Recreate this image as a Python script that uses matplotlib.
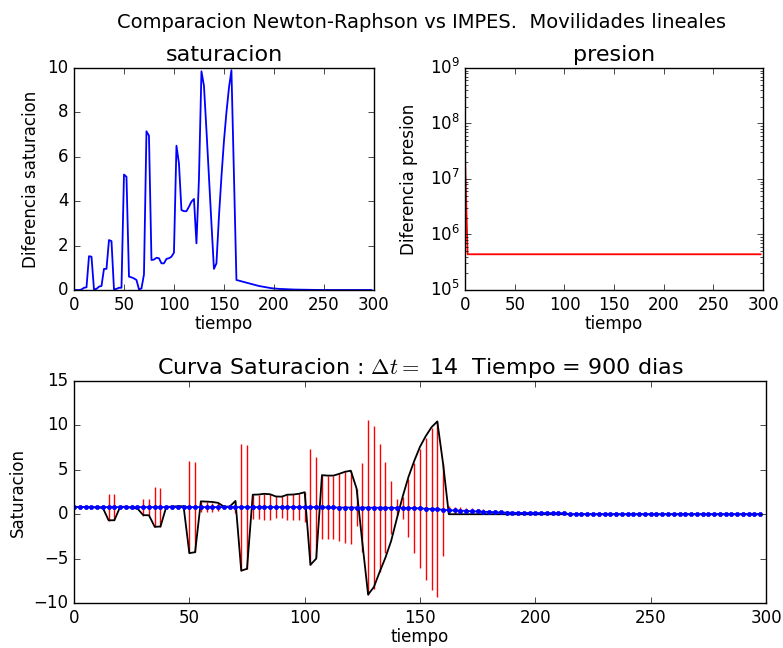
import numpy as np
import matplotlib
matplotlib.use('Agg')
import matplotlib.pyplot as plt

plt.style.use('classic')
plt.rcParams['font.family'] = ['DejaVu Sans']
plt.rcParams['figure.facecolor'] = 'white'

# malla de tiempo (120 celdas)
tiempo = np.arange(120) * 2.5

# saturacion Newton-Raphson (linea negra)
sw_nr = [0.82, 0.82, 0.82, 0.80, 0.75, 0.72, -0.68, -0.68, 0.82, 0.85,
         0.70, 0.65, -0.10, -0.12, -1.42, -1.38, 0.82, 0.86, 0.90, 0.90,
         -4.38, -4.28, 1.45, 1.42, 1.38, 1.28, 0.85, 0.86, 1.50, -6.35,
         -6.15, 2.20, 2.22, 2.30, 2.25, 2.00, 1.98, 2.20, 2.22, 2.30,
         2.48, -5.70, -5.00, 4.40, 4.35, 4.35, 4.55, 4.78, 4.90, 2.90,
         -3.20, -9.05, -8.20, -6.50, -4.90, -3.00, -0.45, 2.00, 4.20, 6.00,
         7.60, 8.80, 9.80, 10.45, 5.70, 0.00] + [0.0] * 54

# saturacion IMPES (linea azul con puntos)
sw_impes = ([0.80] * 44 +
            [0.76, 0.76, 0.75, 0.75, 0.75, 0.74, 0.74, 0.74, 0.73, 0.73, 0.73, 0.72,
             0.72, 0.71, 0.70, 0.68, 0.66, 0.62, 0.58, 0.55, 0.50, 0.45,
             0.42, 0.40, 0.37, 0.34, 0.31, 0.28, 0.25, 0.23, 0.20, 0.18,
             0.16, 0.15, 0.14, 0.14, 0.13, 0.13, 0.13, 0.12, 0.12, 0.12] +
            [0.0] * 34)

# diferencia de saturacion
dif_sat = [0.00, 0.00, 0.00, 0.02, 0.10, 0.12, 1.52, 1.50, 0.03, 0.05,
           0.15, 0.18, 0.95, 0.95, 2.25, 2.20, 0.03, 0.05, 0.10, 0.10,
           5.20, 5.10, 0.60, 0.57, 0.52, 0.45, 0.03, 0.07, 0.70, 7.15,
           6.95, 1.35, 1.37, 1.45, 1.43, 1.20, 1.20, 1.40, 1.43, 1.50,
           1.68, 6.50, 5.70, 3.60, 3.55, 3.55, 3.75, 3.98, 4.10, 2.10,
           5.00, 9.85, 9.20, 7.20, 5.10, 3.00, 0.95, 1.20, 3.30, 5.10,
           6.70, 8.00, 9.10, 9.90, 5.20, 0.45, 0.42, 0.39, 0.36, 0.33,
           0.30, 0.27, 0.24, 0.21, 0.18, 0.16, 0.14, 0.12, 0.10, 0.08,
           0.07, 0.06, 0.05, 0.045, 0.04, 0.035, 0.03, 0.025, 0.02, 0.018,
           0.016, 0.014, 0.012, 0.01, 0.008, 0.006, 0.004, 0.002, 0.001, 0.0] + [0.0] * 20

# diferencia de presion
dif_pres = [2.2e7] + [4.4e5] * 119

fig = plt.figure(figsize=(7.83, 6.48), dpi=100)
fig.suptitle('Comparacion Newton-Raphson vs IMPES.  Movilidades lineales',
             fontsize=14, x=0.538)

ax1 = fig.add_axes([0.0945, 0.5525, 0.383, 0.3426])
ax1.plot(tiempo, dif_sat, 'b-', lw=1.3)
ax1.set_xlim(0, 300)
ax1.set_ylim(0, 10)
ax1.set_title('saturacion', fontsize=16)
ax1.set_xlabel('tiempo', fontsize=12, labelpad=1)
ax1.set_ylabel('Diferencia saturacion', fontsize=12)

ax2 = fig.add_axes([0.594, 0.5525, 0.3806, 0.3426])
ax2.semilogy(tiempo, dif_pres, 'r-', lw=1.3)
ax2.set_xlim(0, 300)
ax2.set_ylim(1e5, 1e9)
ax2.set_title('presion', fontsize=16)
ax2.set_xlabel('tiempo', fontsize=12, labelpad=1)
ax2.set_ylabel('Diferencia presion', fontsize=12, labelpad=8)

ax3 = fig.add_axes([0.0945, 0.0694, 0.8838, 0.3426])
ax3.errorbar(tiempo, sw_impes, yerr=dif_sat, fmt='b.-', ecolor='r',
             capsize=0, ms=6, lw=1.3, elinewidth=1.0)
ax3.plot(tiempo, sw_nr, 'k-', lw=1.3)
ax3.set_xlim(0, 300)
ax3.set_ylim(-10, 15)
ax3.set_title(r'Curva Saturacion : $\Delta t =$ 14  Tiempo = 900 dias', fontsize=16)
ax3.set_xlabel('tiempo', fontsize=12, labelpad=1)
ax3.set_ylabel('Saturacion', fontsize=12)

for ax in (ax1, ax2, ax3):
    ax.tick_params(labelsize=12)

fig.savefig('out.png', dpi=100, facecolor='white')
